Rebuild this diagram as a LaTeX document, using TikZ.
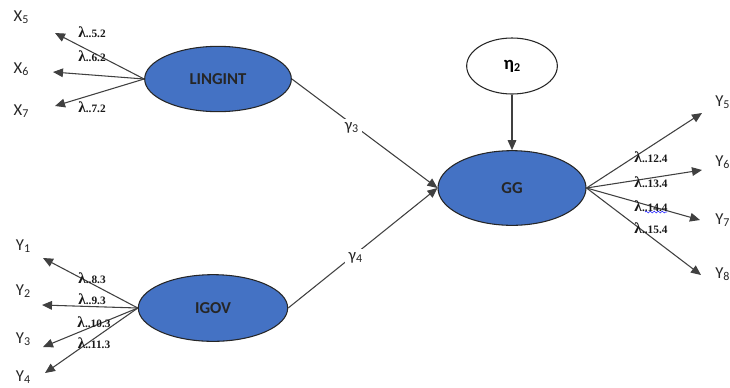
\documentclass[tikz,border=0pt]{standalone}
\usepackage{fontspec}
\setmainfont{Carlito}
\newfontfamily\lamfont{Liberation Serif}
\usetikzlibrary{shapes.geometric,arrows.meta,decorations.pathmorphing}

\definecolor{latblue}{HTML}{4472C4}
\definecolor{edgegray}{HTML}{404040}

\tikzset{
  latent/.style={ellipse, draw=black!85, fill=latblue, line width=0.8pt, inner sep=0pt,
    text=black!85, font=\bfseries\fontsize{12.5}{14}\selectfont},
  errvar/.style={ellipse, draw=black!85, fill=white, line width=0.8pt, inner sep=0pt,
    font=\bfseries\fontsize{14}{16}\selectfont},
  obs/.style={inner sep=0pt, text=black!85, font=\fontsize{12.5}{14}\selectfont},
  lam/.style={inner sep=0pt, text=black!90, font=\lamfont\bfseries\fontsize{8.5}{10}\selectfont},
  load/.style={draw=edgegray, line width=0.8pt, -{Triangle[length=7.5pt,width=6.5pt]}},
}
\newcommand{\lmb}[1]{{\fontsize{11.5}{11}\selectfont λ}..#1}
\newcommand{\sbs}[1]{\raisebox{-0.25ex}{\fontsize{9}{9}\selectfont #1}}

\begin{document}
\begin{tikzpicture}[x=0.75pt, y=-0.75pt]
  \useasboundingbox (0,0) rectangle (730,387);

  \node[latent, minimum width=110pt, minimum height=49pt] (ling) at (218,79) {LINGINT};
  \node[latent, minimum width=112pt, minimum height=50pt] (igov) at (213,308) {IGOV};
  \node[latent, minimum width=111pt, minimum height=56pt] (gg) at (512,188) {GG};
  \node[errvar, minimum width=68pt, minimum height=42pt] (eta) at (512,66) {η\sbs{2}};

  \node[obs] (x5) at (21,17) {X\sbs{5}};
  \node[obs] (x6) at (21,69) {X\sbs{6}};
  \node[obs] (x7) at (21,111) {X\sbs{7}};
  \coordinate (x5t) at (55,33);
  \coordinate (x6t) at (53,72);
  \coordinate (x7t) at (55,106);

  \node[obs] (y1) at (23,246) {Y\sbs{1}};
  \node[obs] (y2) at (23,291) {Y\sbs{2}};
  \node[obs] (y3) at (23,339) {Y\sbs{3}};
  \node[obs] (y4) at (23,377) {Y\sbs{4}};
  \coordinate (y1t) at (43,258);
  \coordinate (y2t) at (42,305);
  \coordinate (y3t) at (43,347);
  \coordinate (y4t) at (45,373);

  \node[obs, anchor=west] (y5) at (715,102) {Y\sbs{5}};
  \node[obs, anchor=west] (y6) at (715,162) {Y\sbs{6}};
  \node[obs, anchor=west] (y7) at (715,220) {Y\sbs{7}};
  \node[obs, anchor=west] (y8) at (715,274) {Y\sbs{8}};
  \coordinate (y5t) at (702,113);
  \coordinate (y6t) at (702,170);
  \coordinate (y7t) at (700,220);
  \coordinate (y8t) at (701,275);

  \draw[load] (ling.west) -- (x5t);
  \draw[load] (ling.west) -- (x6t);
  \draw[load] (ling.west) -- (x7t);

  \draw[load] (igov.west) -- (y1t);
  \draw[load] (igov.west) -- (y2t);
  \draw[load] (igov.west) -- (y3t);
  \draw[load] (igov.west) -- (y4t);

  \draw[load] (gg.east) -- (y5t);
  \draw[load] (gg.east) -- (y6t);
  \draw[load] (gg.east) -- (y7t);
  \draw[load] (gg.east) -- (y8t);

  \node[lam] (l52) at (92,32) {\lmb{5.2}};
  \node[lam] (l62) at (92,56) {\lmb{6.2}};
  \node[lam] (l72) at (92,107) {\lmb{7.2}};
  \node[lam] (l83) at (92,278) {\lmb{8.3}};
  \node[lam] (l93) at (92,299) {\lmb{9.3}};
  \node[lam] (l103) at (94,322) {\lmb{10.3}};
  \node[lam] (l113) at (94,343) {\lmb{11.3}};
  \node[lam] (l124) at (651,157) {\lmb{12.4}};
  \node[lam] (l134) at (651,182) {\lmb{13.4}};
  \node[lam] (l144) at (651,206) {\lmb{14.4}};
  \node[lam] (l154) at (651,228) {\lmb{15.4}};
  \draw[blue!80, line width=0.5pt, decorate, decoration={snake, amplitude=0.7pt, segment length=3pt}]
    (645,212) -- (667,212);

  \draw[load] (ling.east) -- node[pos=0.41, fill=white, obs, inner sep=2.5pt, yshift=-3pt] (g3) {γ\sbs{3}} (gg.west);
  \draw[load] (igov.east) -- node[pos=0.45, fill=white, obs, inner sep=2.5pt, yshift=-3pt] (g4) {γ\sbs{4}} (gg.west);
  \draw[load] (eta) -- (gg);
\end{tikzpicture}
\end{document}
